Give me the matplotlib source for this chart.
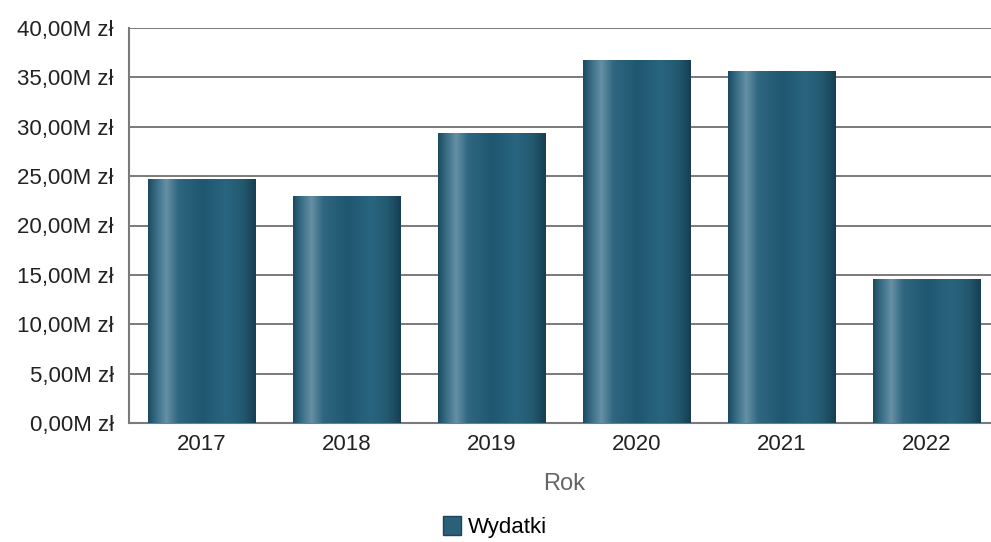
import numpy as np
import matplotlib
matplotlib.use("Agg")
import matplotlib.pyplot as plt
from matplotlib.colors import LinearSegmentedColormap
from matplotlib.patches import Patch

years = ["2017", "2018", "2019", "2020", "2021", "2022"]
wydatki = [24.7, 23.0, 29.4, 36.8, 35.6, 14.6]  # mln zł
yticks = [0, 5, 10, 15, 20, 25, 30, 35, 40]

plt.rcParams['font.family'] = ['Liberation Sans', 'DejaVu Sans']

cyl = LinearSegmentedColormap.from_list("cyl", [
    (0.0, "#1b4a60"), (0.08, "#3a6f88"), (0.17, "#6690a4"), (0.28, "#2f6680"),
    (0.5, "#1f5670"), (0.72, "#296580"), (0.88, "#22596f"), (1.0, "#173e52")])

fig = plt.figure(figsize=(9.91, 5.42), dpi=100)
ax = fig.add_axes([129 / 991, 1 - 423 / 542, 870 / 991, 395 / 542])

x = np.arange(len(years))
bars = ax.bar(x, wydatki, width=0.74, color="#1f5570", zorder=2)
grad = np.linspace(0, 1, 256).reshape(1, -1)
for b in bars:
    x0, w, h = b.get_x(), b.get_width(), b.get_height()
    im = ax.imshow(grad, cmap=cyl, aspect="auto", extent=[x0, x0 + w, 0, h],
                   zorder=3, interpolation="bilinear")
    im.set_clip_path(b)

ax.set_xlim(-0.5, len(years) - 0.5)
ax.set_ylim(0, 40)
ax.set_yticks(yticks)
ax.set_yticklabels([f"{v},00M zł" for v in yticks], fontsize=16, color="#222222")
ax.set_xticks(x)
ax.set_xticklabels(years, fontsize=16, color="#222222")
ax.tick_params(axis="x", length=0, pad=8)
ax.tick_params(axis="y", length=0, pad=11)
ax.yaxis.grid(True, color="#7a7a7a", linewidth=1.4, zorder=1)
ax.set_axisbelow(True)
for s in ["top", "right"]:
    ax.spines[s].set_visible(False)
for s in ["left", "bottom"]:
    ax.spines[s].set_color("#7a7a7a")
    ax.spines[s].set_linewidth(1.5)

ax.set_xlabel("Rok", fontsize=17, color="#666666", labelpad=13)

handle = Patch(facecolor="#2a6078", edgecolor="#1a465b")
fig.legend([handle], ["Wydatki"], loc="center", bbox_to_anchor=(495 / 991, 1 - 527 / 542),
           frameon=False, fontsize=16, handlelength=0.8, handleheight=0.9,
           handletextpad=0.3)

fig.savefig("out.png", dpi=100)
